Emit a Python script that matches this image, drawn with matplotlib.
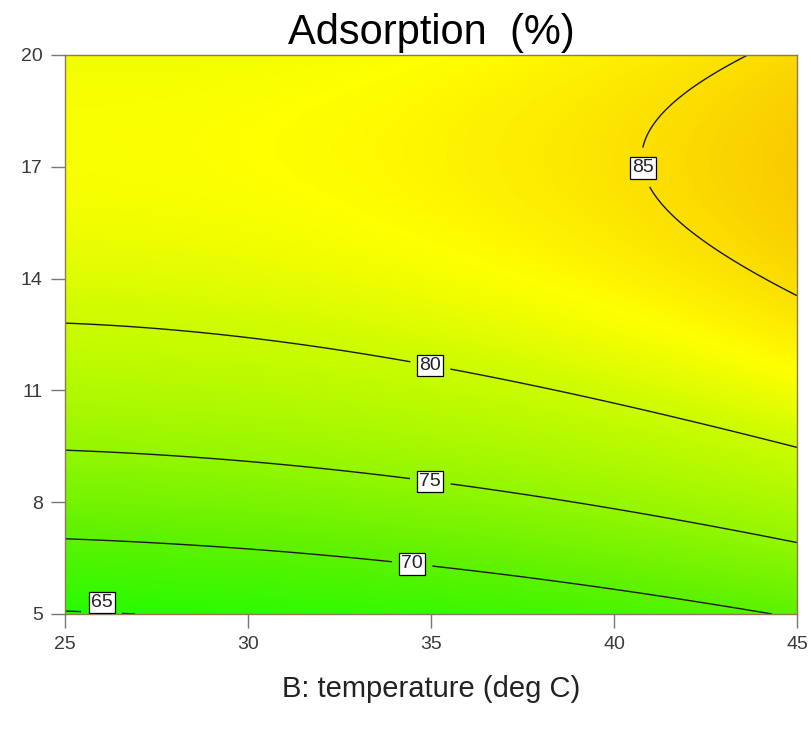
import numpy as np
import matplotlib.pyplot as plt
from matplotlib.colors import LinearSegmentedColormap

# points: temperature, second factor, response level
temp_pts = [25, 30, 35, 40, 45,
            25, 30, 35, 40, 45,
            25, 30, 35, 40, 44.3,
            25, 26.5,
            40.4, 41.8, 43.9, 42.35, 45]
fact_pts = [12.84, 12.41, 11.76, 10.47, 9.54,
            9.37, 9.05, 8.70, 7.79, 6.96,
            7.01, 6.75, 6.40, 5.56, 5.0,
            5.08, 5.0,
            16.9, 18.8, 20.0, 14.77, 13.64]
resp_pts = [80] * 5 + [75] * 5 + [70] * 5 + [65] * 2 + [85] * 5

levels = [65, 70, 75, 80, 85]
label_pos = [(26.0, 5.08), (34.5, 6.45), (35.0, 8.7), (35.0, 11.76), (40.4, 16.9)]
label_xy = [(26.0, 5.3), None, None, None, None]  # 65 sits just above the edge

# quadratic response surface fitted to the contour points
B = np.array(temp_pts, float)
C = np.array(fact_pts, float)
X = np.column_stack([np.ones_like(B), B, C, B * C, B ** 2, C ** 2])
coef, *_ = np.linalg.lstsq(X, np.array(resp_pts, float), rcond=None)


def model(b, c):
    return coef[0] + coef[1] * b + coef[2] * c + coef[3] * b * c + coef[4] * b ** 2 + coef[5] * c ** 2


bb, cc = np.meshgrid(np.linspace(25, 45, 400), np.linspace(5, 20, 400))
zz = model(bb, cc)

cmap = LinearSegmentedColormap.from_list("de", [
    (0.00, (0.08, 1.0, 0.0)),
    (0.30, (0.38, 0.95, 0.0)),
    (0.50, (0.60, 0.97, 0.0)),
    (0.70, (0.82, 0.99, 0.0)),
    (0.80, (1.0, 1.0, 0.0)),
    (1.00, (0.97, 0.70, 0.0)),
])

fig = plt.figure(figsize=(8.11, 7.4), dpi=100)
ax = fig.add_axes([0.0801, 0.1703, 0.9026, 0.7554])
ax.imshow(zz, origin="lower", extent=[25, 45, 5, 20], aspect="auto",
          cmap=cmap, vmin=63, vmax=88, interpolation="bilinear")
cs = ax.contour(bb, cc, zz, levels=levels, colors="#1a1a1a", linewidths=1.0)
lbls = ax.clabel(cs, fmt="%d", manual=label_pos, inline=True, fontsize=14,
                 inline_spacing=8, rightside_up=True)
for t in lbls:
    t.set_rotation(0)
    t.set_family("Liberation Sans")
    t.set_fontsize(14)
    t.set_color("#222222")
    t.set_bbox(dict(facecolor="white", edgecolor="black", linewidth=0.9, pad=1.5))
    lev = int(t.get_text())
    xy = label_xy[levels.index(lev)]
    if xy is not None:
        t.set_position(xy)

ax.set_xlim(25, 45)
ax.set_ylim(5, 20)
ax.set_xticks([25, 30, 35, 40, 45])
ax.set_yticks([5, 8, 11, 14, 17, 20])
ax.tick_params(direction="out", length=10, width=1, color="#777777",
               labelcolor="#3a3a3a", labelsize=14, pad=6)
for s in ax.spines.values():
    s.set_color("#8a7a5a")
    s.set_linewidth(1)

ax.set_title("Adsorption  (%)", fontsize=30, family="Liberation Sans", pad=8)
ax.set_xlabel("B: temperature (deg C)", fontsize=21, family="Liberation Sans",
              labelpad=16, color="#222222")
for t in ax.get_xticklabels() + ax.get_yticklabels():
    t.set_family("Liberation Sans")

fig.savefig("out.png", dpi=100)
